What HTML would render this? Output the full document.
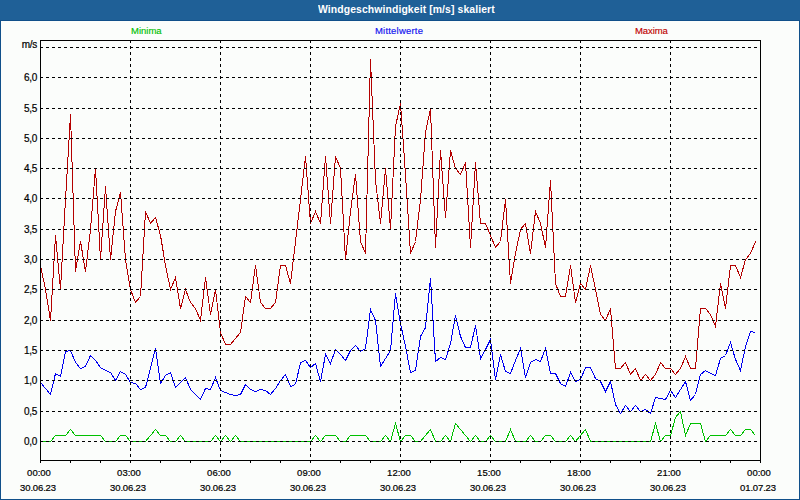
<!DOCTYPE html>
<html><head><meta charset="utf-8"><style>
html,body{margin:0;padding:0;}
body{width:800px;height:500px;position:relative;overflow:hidden;background:#1f6097;font-family:"Liberation Sans",sans-serif;}
#frame{position:absolute;left:0;top:0;width:798px;height:478px;border-left:1px solid #10508a;border-right:1px solid #10508a;border-bottom:1px solid #10508a;top:20px;border-top:1px solid #10508a;background:#fbfdfb;}
#title{position:absolute;left:318px;top:0px;height:20px;line-height:20px;white-space:nowrap;color:#fff;font-weight:bold;font-size:10px;letter-spacing:0.1px;transform:scaleX(1.04);transform-origin:0 0;}
svg{position:absolute;left:0;top:0;}
.g{stroke:#000;stroke-width:1;stroke-dasharray:3 3;fill:none;}
.sr{stroke:#b40000;fill:none;stroke-width:1;}
.sb{stroke:#0000f0;fill:none;stroke-width:1;}
.sg{stroke:#00c000;fill:none;stroke-width:1;}
.yl{position:absolute;right:763px;font-size:10px;letter-spacing:-0.3px;line-height:12px;color:#000;text-align:right;white-space:nowrap;-webkit-text-stroke:0.2px #000;}
.xl{position:absolute;width:60px;text-align:center;font-size:9.5px;letter-spacing:0.1px;line-height:12px;color:#000;white-space:nowrap;-webkit-text-stroke:0.2px #000;}
.lg{position:absolute;top:25px;font-size:9.5px;line-height:12px;white-space:nowrap;-webkit-text-stroke:0.15px currentColor;}
</style></head><body>
<div id="frame"></div>
<div id="title">Windgeschwindigkeit [m/s] skaliert</div>
<div class="lg" style="left:131px;color:#00c000;letter-spacing:0px">Minima</div>
<div class="lg" style="left:375px;color:#1010f0;letter-spacing:0.2px">Mittelwerte</div>
<div class="lg" style="left:635px;color:#c00000;letter-spacing:-0.1px">Maxima</div>
<div class="yl" style="top:39px">m/s</div><div class="yl" style="top:72px">6,0</div><div class="yl" style="top:103px">5,5</div><div class="yl" style="top:133px">5,0</div><div class="yl" style="top:163px">4,5</div><div class="yl" style="top:193px">4,0</div><div class="yl" style="top:224px">3,5</div><div class="yl" style="top:254px">3,0</div><div class="yl" style="top:284px">2,5</div><div class="yl" style="top:315px">2,0</div><div class="yl" style="top:345px">1,5</div><div class="yl" style="top:375px">1,0</div><div class="yl" style="top:406px">0,5</div><div class="yl" style="top:436px">0,0</div><div class="xl" style="left:9px;top:467px;letter-spacing:0px">00:00</div><div class="xl" style="left:8px;top:482px;letter-spacing:-0.15px">30.06.23</div><div class="xl" style="left:99px;top:467px;letter-spacing:0px">03:00</div><div class="xl" style="left:98px;top:482px;letter-spacing:-0.15px">30.06.23</div><div class="xl" style="left:189px;top:467px;letter-spacing:0px">06:00</div><div class="xl" style="left:188px;top:482px;letter-spacing:-0.15px">30.06.23</div><div class="xl" style="left:279px;top:467px;letter-spacing:0px">09:00</div><div class="xl" style="left:278px;top:482px;letter-spacing:-0.15px">30.06.23</div><div class="xl" style="left:369px;top:467px;letter-spacing:0px">12:00</div><div class="xl" style="left:368px;top:482px;letter-spacing:-0.15px">30.06.23</div><div class="xl" style="left:459px;top:467px;letter-spacing:0px">15:00</div><div class="xl" style="left:458px;top:482px;letter-spacing:-0.15px">30.06.23</div><div class="xl" style="left:549px;top:467px;letter-spacing:0px">18:00</div><div class="xl" style="left:548px;top:482px;letter-spacing:-0.15px">30.06.23</div><div class="xl" style="left:639px;top:467px;letter-spacing:0px">21:00</div><div class="xl" style="left:638px;top:482px;letter-spacing:-0.15px">30.06.23</div><div class="xl" style="left:729px;top:467px;letter-spacing:0px">00:00</div><div class="xl" style="left:728px;top:482px;letter-spacing:-0.15px">01.07.23</div>
<svg width="800" height="500" viewBox="0 0 800 500" shape-rendering="crispEdges">
<polyline points="40.5,441.5 45.5,441.5 50.5,441.5 55.5,435.5 60.5,435.5 65.5,435.5 70.5,429.5 75.5,435.5 80.5,435.5 85.5,435.5 90.5,435.5 95.5,435.5 100.5,435.5 105.5,441.5 110.5,441.5 115.5,441.5 120.5,435.5 125.5,435.5 130.5,441.5 135.5,441.5 140.5,441.5 145.5,441.5 150.5,435.5 155.5,429.5 160.5,435.5 165.5,435.5 170.5,441.5 175.5,441.5 180.5,435.5 185.5,441.5 190.5,441.5 195.5,441.5 200.5,441.5 205.5,441.5 210.5,441.5 215.5,435.5 220.5,441.5 225.5,435.5 230.5,441.5 235.5,435.5 240.5,441.5 245.5,441.5 250.5,441.5 255.5,441.5 260.5,441.5 265.5,441.5 270.5,441.5 275.5,441.5 280.5,441.5 285.5,441.5 290.5,441.5 295.5,441.5 300.5,441.5 305.5,441.5 310.5,441.5 315.5,435.5 320.5,441.5 325.5,435.5 330.5,435.5 335.5,435.5 340.5,441.5 345.5,441.5 350.5,435.5 355.5,435.5 360.5,435.5 365.5,435.5 370.5,441.5 375.5,441.5 380.5,441.5 385.5,435.5 390.5,441.5 395.5,423.5 400.5,441.5 405.5,435.5 410.5,435.5 415.5,441.5 420.5,441.5 425.5,435.5 430.5,429.5 435.5,441.5 440.5,441.5 445.5,435.5 450.5,441.5 455.5,423.5 460.5,429.5 465.5,435.5 470.5,441.5 475.5,435.5 480.5,441.5 485.5,441.5 490.5,435.5 495.5,441.5 500.5,441.5 505.5,441.5 510.5,429.5 515.5,441.5 520.5,441.5 525.5,441.5 530.5,435.5 535.5,441.5 540.5,441.5 545.5,435.5 550.5,435.5 555.5,441.5 560.5,441.5 565.5,441.5 570.5,435.5 575.5,441.5 580.5,435.5 585.5,429.5 590.5,441.5 595.5,441.5 600.5,441.5 605.5,441.5 610.5,441.5 615.5,441.5 620.5,441.5 625.5,441.5 630.5,441.5 635.5,441.5 640.5,441.5 645.5,441.5 650.5,441.5 655.5,423.5 660.5,441.5 665.5,435.5 670.5,435.5 675.5,417.5 680.5,411.5 685.5,435.5 690.5,423.5 695.5,423.5 700.5,423.5 705.5,441.5 710.5,435.5 715.5,435.5 720.5,435.5 725.5,435.5 730.5,429.5 735.5,435.5 740.5,435.5 745.5,429.5 750.5,429.5 755.5,435.5" class="sg"/><polyline points="40.5,382.5 45.5,388.5 50.5,394.5 55.5,373.5 60.5,376.5 65.5,351.5 70.5,350.5 75.5,362.5 80.5,368.5 85.5,366.5 90.5,355.5 95.5,360.5 100.5,367.5 105.5,370.5 110.5,372.5 115.5,380.5 120.5,371.5 125.5,374.5 130.5,382.5 135.5,383.5 140.5,389.5 145.5,387.5 150.5,368.5 155.5,348.5 160.5,383.5 165.5,375.5 170.5,372.5 175.5,387.5 180.5,382.5 185.5,377.5 190.5,389.5 195.5,394.5 200.5,399.5 205.5,388.5 210.5,389.5 215.5,377.5 220.5,390.5 225.5,392.5 230.5,394.5 235.5,395.5 240.5,394.5 245.5,384.5 250.5,389.5 255.5,391.5 260.5,389.5 265.5,390.5 270.5,394.5 275.5,388.5 280.5,380.5 285.5,374.5 290.5,386.5 295.5,384.5 300.5,362.5 305.5,360.5 310.5,367.5 315.5,363.5 320.5,381.5 325.5,354.5 330.5,363.5 335.5,349.5 340.5,354.5 345.5,360.5 350.5,350.5 355.5,345.5 360.5,351.5 365.5,348.5 370.5,309.5 375.5,320.5 380.5,366.5 385.5,358.5 390.5,350.5 395.5,293.5 400.5,323.5 405.5,346.5 410.5,372.5 415.5,370.5 420.5,336.5 425.5,327.5 430.5,278.5 435.5,361.5 440.5,357.5 445.5,359.5 450.5,343.5 455.5,315.5 460.5,336.5 465.5,347.5 470.5,347.5 475.5,325.5 480.5,358.5 485.5,349.5 490.5,339.5 495.5,379.5 500.5,354.5 505.5,371.5 510.5,373.5 515.5,360.5 520.5,348.5 525.5,377.5 530.5,362.5 535.5,359.5 540.5,361.5 545.5,348.5 550.5,373.5 555.5,373.5 560.5,383.5 565.5,386.5 570.5,372.5 575.5,381.5 580.5,379.5 585.5,367.5 590.5,367.5 595.5,378.5 600.5,381.5 605.5,391.5 610.5,381.5 615.5,404.5 620.5,413.5 625.5,405.5 630.5,411.5 635.5,405.5 640.5,411.5 645.5,409.5 650.5,413.5 655.5,397.5 660.5,398.5 665.5,399.5 670.5,390.5 675.5,397.5 680.5,389.5 685.5,381.5 690.5,400.5 695.5,394.5 700.5,374.5 705.5,370.5 710.5,373.5 715.5,375.5 720.5,358.5 725.5,355.5 730.5,342.5 735.5,359.5 740.5,370.5 745.5,346.5 750.5,331.5 755.5,332.5" class="sb"/><polyline points="40.5,265.5 45.5,289.5 50.5,320.5 55.5,235.5 60.5,289.5 65.5,199.5 70.5,114.5 75.5,271.5 80.5,241.5 85.5,271.5 90.5,229.5 95.5,168.5 100.5,259.5 105.5,186.5 110.5,259.5 115.5,211.5 120.5,192.5 125.5,259.5 130.5,289.5 135.5,302.5 140.5,296.5 145.5,211.5 150.5,223.5 155.5,217.5 160.5,235.5 165.5,265.5 170.5,289.5 175.5,277.5 180.5,308.5 185.5,289.5 190.5,302.5 195.5,308.5 200.5,320.5 205.5,277.5 210.5,314.5 215.5,289.5 220.5,332.5 225.5,344.5 230.5,344.5 235.5,338.5 240.5,332.5 245.5,296.5 250.5,302.5 255.5,265.5 260.5,302.5 265.5,308.5 270.5,308.5 275.5,302.5 280.5,265.5 285.5,265.5 290.5,283.5 295.5,241.5 300.5,199.5 305.5,156.5 310.5,223.5 315.5,211.5 320.5,223.5 325.5,156.5 330.5,223.5 335.5,156.5 340.5,168.5 345.5,259.5 350.5,211.5 355.5,174.5 360.5,241.5 365.5,253.5 370.5,59.5 375.5,180.5 380.5,223.5 385.5,168.5 390.5,229.5 395.5,126.5 400.5,103.5 405.5,174.5 410.5,253.5 415.5,241.5 420.5,199.5 425.5,132.5 430.5,108.5 435.5,247.5 440.5,150.5 445.5,217.5 450.5,150.5 455.5,168.5 460.5,174.5 465.5,162.5 470.5,247.5 475.5,162.5 480.5,223.5 485.5,223.5 490.5,235.5 495.5,247.5 500.5,241.5 505.5,199.5 510.5,283.5 515.5,253.5 520.5,229.5 525.5,223.5 530.5,253.5 535.5,211.5 540.5,223.5 545.5,247.5 550.5,180.5 555.5,283.5 560.5,296.5 565.5,296.5 570.5,265.5 575.5,302.5 580.5,283.5 585.5,289.5 590.5,265.5 595.5,289.5 600.5,314.5 605.5,320.5 610.5,308.5 615.5,368.5 620.5,368.5 625.5,362.5 630.5,374.5 635.5,368.5 640.5,380.5 645.5,374.5 650.5,380.5 655.5,374.5 660.5,362.5 665.5,368.5 670.5,368.5 675.5,374.5 680.5,368.5 685.5,356.5 690.5,368.5 695.5,368.5 700.5,308.5 705.5,308.5 710.5,314.5 715.5,326.5 720.5,283.5 725.5,308.5 730.5,265.5 735.5,265.5 740.5,277.5 745.5,259.5 750.5,253.5 755.5,241.5" class="sr"/><path d="M40 47.5H760" class="g"/><path d="M40 77.5H760" class="g"/><path d="M40 108.5H760" class="g"/><path d="M40 138.5H760" class="g"/><path d="M40 168.5H760" class="g"/><path d="M40 198.5H760" class="g"/><path d="M40 229.5H760" class="g"/><path d="M40 259.5H760" class="g"/><path d="M40 289.5H760" class="g"/><path d="M40 320.5H760" class="g"/><path d="M40 350.5H760" class="g"/><path d="M40 380.5H760" class="g"/><path d="M40 411.5H760" class="g"/><path d="M40 441.5H760" class="g"/><path d="M130.5 40V460" class="g"/><path d="M220.5 40V460" class="g"/><path d="M310.5 40V460" class="g"/><path d="M400.5 40V460" class="g"/><path d="M490.5 40V460" class="g"/><path d="M580.5 40V460" class="g"/><path d="M670.5 40V460" class="g"/><rect x="40.5" y="40.5" width="720" height="420" fill="none" stroke="#000" stroke-width="1"/><path d="M40.5 460V463" stroke="#000"/><path d="M70.5 460V463" stroke="#000"/><path d="M100.5 460V463" stroke="#000"/><path d="M130.5 460V463" stroke="#000"/><path d="M160.5 460V463" stroke="#000"/><path d="M190.5 460V463" stroke="#000"/><path d="M220.5 460V463" stroke="#000"/><path d="M250.5 460V463" stroke="#000"/><path d="M280.5 460V463" stroke="#000"/><path d="M310.5 460V463" stroke="#000"/><path d="M340.5 460V463" stroke="#000"/><path d="M370.5 460V463" stroke="#000"/><path d="M400.5 460V463" stroke="#000"/><path d="M430.5 460V463" stroke="#000"/><path d="M460.5 460V463" stroke="#000"/><path d="M490.5 460V463" stroke="#000"/><path d="M520.5 460V463" stroke="#000"/><path d="M550.5 460V463" stroke="#000"/><path d="M580.5 460V463" stroke="#000"/><path d="M610.5 460V463" stroke="#000"/><path d="M640.5 460V463" stroke="#000"/><path d="M670.5 460V463" stroke="#000"/><path d="M700.5 460V463" stroke="#000"/><path d="M730.5 460V463" stroke="#000"/><path d="M760.5 460V463" stroke="#000"/>
</svg>
</body></html>
